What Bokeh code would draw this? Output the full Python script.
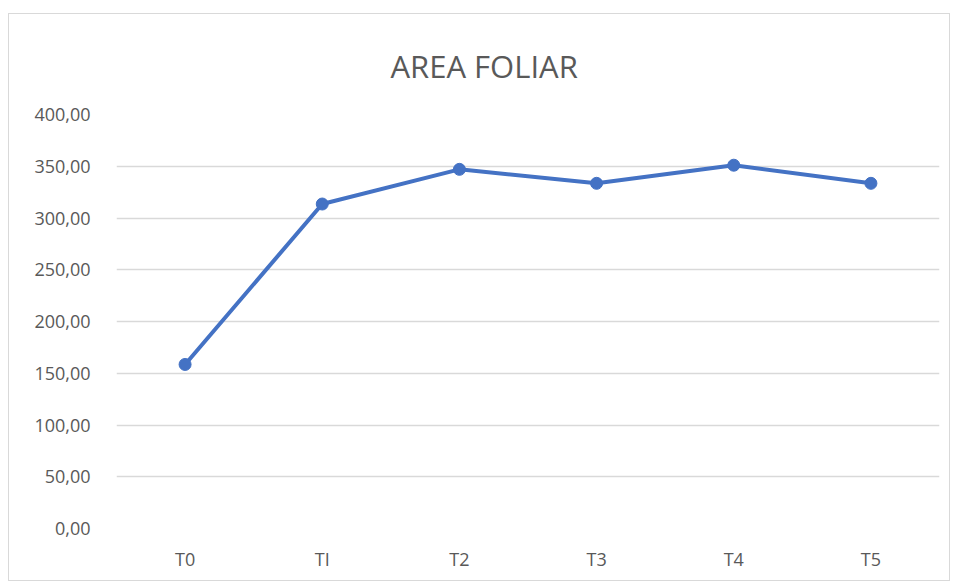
from bokeh.plotting import figure
from bokeh.models import Range1d, FixedTicker
from bokeh.embed import file_html
from bokeh.resources import INLINE

categories = ["T0", "TI", "T2", "T3", "T4", "T5"]
values = [158.5, 313.5, 347.0, 333.5, 351.0, 333.5]
y_ticks = [0, 50, 100, 150, 200, 250, 300, 350, 400]
y_tick_labels = ["0,00", "50,00", "100,00", "150,00", "200,00", "250,00", "300,00", "350,00", "400,00"]

W, H = 942, 568
p = figure(x_range=categories, y_range=Range1d(0, 400), width=W, height=H,
           output_backend="svg", toolbar_location=None, title="AREA FOLIAR",
           min_border_left=107, min_border_right=12, min_border_top=100, min_border_bottom=54)
p.margin = (13, 0, 0, 8)
p.styles = {"border": "1px solid #d9d9d9"}
p.outline_line_color = None
p.background_fill_color = "white"
p.border_fill_color = "white"

p.title.align = "left"
p.title.offset = 274
p.title.standoff = 55
p.title.text_color = "#595959"
p.title.text_font = "Open Sans"
p.title.text_font_style = "normal"
p.title.text_font_size = "31px"

p.xgrid.grid_line_color = None
p.ygrid.grid_line_color = "#d9d9d9"
p.ygrid.grid_line_width = 1.5
p.yaxis.ticker = FixedTicker(ticks=y_ticks)
p.yaxis.major_label_overrides = {t: l for t, l in zip(y_ticks, y_tick_labels)}

for ax in (p.xaxis, p.yaxis):
    ax.axis_line_color = None
    ax.major_tick_line_color = None
    ax.minor_tick_line_color = None
    ax.major_label_text_color = "#595959"
    ax.major_label_text_font = "Open Sans"
    ax.major_label_text_font_size = "18px"
p.yaxis.major_label_standoff = 20
p.xaxis.major_label_standoff = 12

p.line(categories, values, line_color="#4472c4", line_width=4)
p.scatter(categories, values, size=12, fill_color="#4472c4", line_color="#4472c4")

open("out.html", "w").write(file_html(p, INLINE))
